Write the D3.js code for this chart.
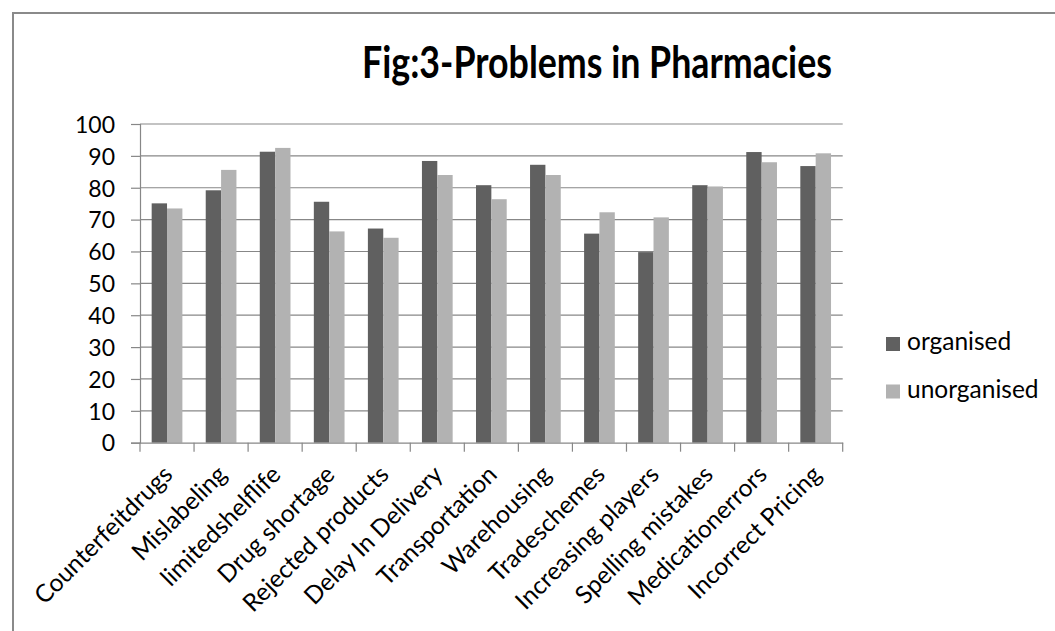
<!DOCTYPE html>
<html><head><meta charset="utf-8">
<script src="https://cdn.jsdelivr.net/npm/d3@7"></script>
<style>
html,body{margin:0;padding:0;background:#fff;}
svg{display:block;}
text{font-family:"Lato","Open Sans",sans-serif;fill:#000;}
</style></head>
<body>
<svg id="chart" width="1055" height="631"></svg>
<script>
const title = "Fig:3-Problems in Pharmacies";
const categories = ["Counterfeitdrugs","Mislabeling","limitedshelflife","Drug shortage","Rejected products","Delay In Delivery","Transportation","Warehousing","Tradeschemes","Increasing players","Spelling mistakes","Medicationerrors","Incorrect Pricing"];
const seriesNames = ["organised","unorganised"];
const organised   = [75.1,79.2,91.3,75.6,67.2,88.4,80.8,87.2,65.6,59.8,80.8,91.2,86.8];
const unorganised = [73.5,85.6,92.5,66.3,64.3,84.0,76.4,84.0,72.3,70.7,80.4,88.0,90.8];
const yTicks = [0,10,20,30,40,50,60,70,80,90,100];
const colors = ["#606060","#b2b2b2"];

const svg = d3.select("#chart");
const W = 1055, H = 631;
const plot = {left:140, right:842.7, top:124, bottom:442.7};
const gridColor = "#878787";

// outer frame
svg.append("path")
  .attr("d", `M13,${H+5} L13,13 L${W+5},13`)
  .attr("fill","none").attr("stroke","#8a8a8a").attr("stroke-width",2);

// title
svg.append("text").attr("x", 597).attr("y", 78)
  .attr("text-anchor","middle")
  .style("font-weight","700").style("font-size","44px")
  .attr("textLength", 470).attr("lengthAdjust","spacingAndGlyphs")
  .text(title);

const x0 = d3.scaleBand().domain(categories).range([plot.left, plot.right]).paddingInner(0).paddingOuter(0);
const x1 = d3.scaleBand().domain(seriesNames).range([0, x0.bandwidth()]).paddingInner(0).paddingOuter(0.76);
const y = d3.scaleLinear().domain([0,100]).range([plot.bottom, plot.top]);

// gridlines
svg.append("g").selectAll("line").data(yTicks.filter(d=>d>0)).join("line")
  .attr("x1", plot.left).attr("x2", plot.right)
  .attr("y1", d=>y(d)).attr("y2", d=>y(d))
  .attr("stroke", gridColor).attr("stroke-width",1.2);

// bars
const table = categories.map((c,i)=>({cat:c, vals:[organised[i], unorganised[i]]}));
const groups = svg.append("g").selectAll("g").data(table).join("g")
  .attr("transform", d=>`translate(${x0(d.cat)},0)`);
groups.selectAll("rect").data(d=>d.vals.map((v,j)=>({name:seriesNames[j], v, j}))).join("rect")
  .attr("x", d=>x1(d.name)).attr("width", x1.bandwidth())
  .attr("y", d=>y(d.v)).attr("height", d=>plot.bottom - y(d.v))
  .attr("fill", d=>colors[d.j]);

// y axis
const yAxis = d3.axisLeft(y).tickValues(yTicks).tickSize(9).tickPadding(16);
const gy = svg.append("g").attr("transform", `translate(${plot.left},0)`).call(yAxis);
gy.select(".domain").attr("stroke", gridColor).attr("stroke-width",1.2);
gy.selectAll(".tick line").attr("stroke", gridColor).attr("stroke-width",1.2);
gy.selectAll(".tick text").style("font-size","23px").attr("fill","#000").attr("dy","0.36em");

// x axis
const xAxis = d3.axisBottom(x0).tickSize(0).tickFormat("");
const gx = svg.append("g").attr("transform", `translate(0,${plot.bottom})`).call(xAxis);
gx.select(".domain").attr("stroke", gridColor).attr("stroke-width",1.2);
gx.selectAll(".tick").remove();
// category boundary ticks
const bounds = categories.map(c=>x0(c)).concat([plot.right]);
svg.append("g").selectAll("line").data(bounds).join("line")
  .attr("x1", d=>d).attr("x2", d=>d)
  .attr("y1", plot.bottom).attr("y2", plot.bottom+9)
  .attr("stroke", gridColor).attr("stroke-width",1.2);
// rotated labels
svg.append("g").selectAll("text").data(categories).join("text")
  .attr("transform", d=>`translate(${x0(d)+x0.bandwidth()/2+7},${476}) rotate(-45)`)
  .attr("text-anchor","end")
  .style("font-size","24.5px")
  .text(d=>d);

// legend
const lg = svg.append("g").selectAll("g").data(seriesNames).join("g")
  .attr("transform", (d,i)=>`translate(886,${337 + i*47.5})`);
lg.append("rect").attr("width",14).attr("height",14).attr("fill",(d,i)=>colors[i]);
lg.append("text").attr("x",21).attr("y",13).style("font-size","24.5px").text(d=>d);
</script>
</body></html>
